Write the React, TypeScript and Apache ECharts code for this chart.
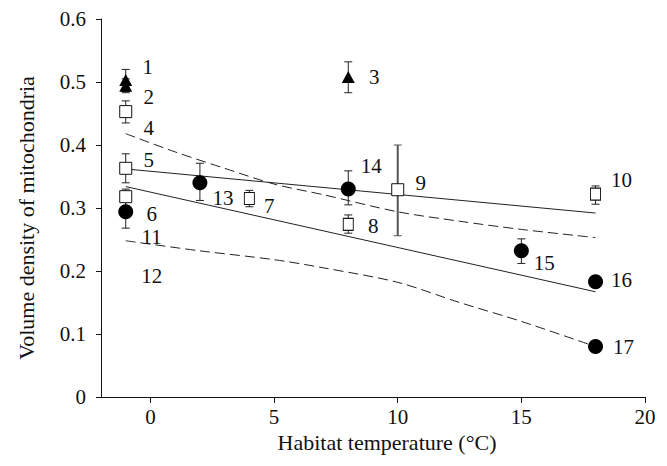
import React, { useEffect, useRef } from "react";
import * as echarts from "echarts";

// ---- data ----
const pointIds = ["1", "2", "3", "4", "5", "6", "7", "8", "9", "10", "11", "12", "13", "14", "15", "16", "17"];
const temps = [-1, -1, 8, -1, -1, -1, 4, 8, 10, 18, -1, -1, 2, 8, 15, 18, 18];
const volDensity = [0.503, 0.494, 0.508, 0.453, 0.363, 0.318, 0.315, 0.274, 0.329, 0.322, 0.294, 0.294, 0.340, 0.330, 0.232, 0.183, 0.080];
const errLow = [0.485, 0.483, 0.483, 0.435, 0.340, 0.300, 0.302, 0.260, 0.256, 0.306, 0.268, null, 0.312, 0.305, 0.212, null, null];
const errHigh = [0.520, 0.505, 0.532, 0.470, 0.386, 0.330, 0.328, 0.289, 0.400, 0.335, 0.318, null, 0.371, 0.359, 0.251, null, null];
const markerKind = ["tri", "tri", "tri", "sq", "sq", "sq", "sqn", "sqn", "sq", "sqn", "circ", "none", "circ", "circ", "circ", "circ", "circ"];

// regression lines (endpoints)
const fitXs = [-1, 18];
const upperFit = [0.362, 0.292];
const lowerFit = [0.334, 0.167];

// dashed confidence band around lower fit
const upperBandX = [-1, 1, 3, 5, 7, 10, 12.5, 15, 18];
const upperBandY = [0.418, 0.389, 0.363, 0.338, 0.321, 0.294, 0.279, 0.266, 0.253];
const lowerBandX = [-1, 2, 5, 7, 10, 12.5, 15, 18];
const lowerBandY = [0.248, 0.232, 0.218, 0.205, 0.182, 0.150, 0.120, 0.080];

const xTicks = [0, 5, 10, 15, 20];

// label placement (layout, px offsets from marker centre)
const labelOffsets: Record<string, [number, number]> = {
  "1": [22, -13], "2": [23, 11], "3": [26, 0], "4": [23, 16], "5": [23, -8],
  "6": [26, 17], "7": [20, 7], "8": [25, 2], "9": [23, -7], "10": [26, -14],
  "11": [26, 25], "12": [26, 64], "13": [23, 15], "14": [23, -23],
  "15": [23, 12], "16": [26, -2], "17": [28, 0],
};

const FONT = "Liberation Serif";
const INK = "#111";

function pointsOf(kinds: string[]) {
  const out: any[] = [];
  pointIds.forEach((id, i) => {
    if (!kinds.includes(markerKind[i])) return;
    const item: any = {
      name: id,
      value: [temps[i], volDensity[i]],
      label: { offset: labelOffsets[id] },
    };
    if (markerKind[i] === "sqn") item.symbolSize = [10, 12];
    out.push(item);
  });
  return out;
}

function errData(wide: boolean) {
  const out: any[] = [];
  pointIds.forEach((id, i) => {
    if (errLow[i] == null) return;
    if ((id === "9") !== wide) return;
    out.push([temps[i], errLow[i], errHigh[i]]);
  });
  return out;
}

const labelStyle = {
  show: true,
  formatter: "{b}",
  position: "inside",
  align: "center",
  verticalAlign: "middle",
  fontFamily: FONT,
  fontSize: 21,
  lineHeight: 14,
  color: INK,
};

function errRender(color: string, width: number) {
  return (params: any, api: any) => {
    const x = api.value(0);
    const p1 = api.coord([x, api.value(1)]);
    const p2 = api.coord([x, api.value(2)]);
    const w = 4;
    const style = { stroke: color, lineWidth: width };
    return {
      type: "group",
      children: [
        { type: "line", shape: { x1: p1[0], y1: p1[1], x2: p2[0], y2: p2[1] }, style },
        { type: "line", shape: { x1: p1[0] - w, y1: p1[1], x2: p1[0] + w, y2: p1[1] }, style: { stroke: color, lineWidth: 1 } },
        { type: "line", shape: { x1: p2[0] - w, y1: p2[1], x2: p2[0] + w, y2: p2[1] }, style: { stroke: color, lineWidth: 1 } },
      ],
    };
  };
}

export default function App() {
  const ref = useRef<HTMLDivElement>(null);
  useEffect(() => {
    if (!ref.current) return;
    const chart = echarts.init(ref.current, undefined, { renderer: "svg" });
    const option: any = {
      animation: false,
      backgroundColor: "#fff",
      textStyle: { fontFamily: FONT },
      grid: { left: 101, right: 22, top: 19, bottom: 69 },
      xAxis: {
        type: "value",
        min: -2,
        max: 20,
        name: "Habitat temperature (°C)",
        nameLocation: "middle",
        nameGap: 34,
        nameTextStyle: { fontFamily: FONT, fontSize: 22, color: INK, padding: [0, 0, 0, 28] },
        axisLine: { onZero: false, lineStyle: { color: INK, width: 1 } },
        axisTick: { show: true, length: 6, customValues: xTicks, lineStyle: { color: INK } },
        axisLabel: { customValues: xTicks, fontFamily: FONT, fontSize: 21, color: INK, margin: 9 },
        splitLine: { show: false },
      },
      yAxis: {
        type: "value",
        min: 0,
        max: 0.6,
        interval: 0.1,
        name: "Volume density of mitochondria",
        nameLocation: "middle",
        nameGap: 64,
        nameTextStyle: { fontFamily: FONT, fontSize: 22, color: INK, padding: [0, 20, 0, 0] },
        axisLine: { show: true, onZero: false, lineStyle: { color: INK, width: 1 } },
        axisTick: { show: true, length: 5, lineStyle: { color: INK } },
        axisLabel: {
          fontFamily: FONT,
          fontSize: 21,
          color: INK,
          margin: 15,
          formatter: (v: number) => (v === 0 ? "0" : v.toFixed(1)),
        },
        splitLine: { show: false },
      },
      series: [
        {
          type: "custom",
          z: 1,
          renderItem: errRender("#222", 1),
          encode: { x: 0, y: [1, 2] },
          data: errData(false),
        },
        {
          type: "custom",
          z: 1,
          renderItem: errRender("#555", 2),
          encode: { x: 0, y: [1, 2] },
          data: errData(true),
        },
        {
          type: "line",
          z: 2,
          symbol: "none",
          lineStyle: { color: "#222", width: 1 },
          data: fitXs.map((x, i) => [x, upperFit[i]]),
        },
        {
          type: "line",
          z: 2,
          symbol: "none",
          lineStyle: { color: "#222", width: 1 },
          data: fitXs.map((x, i) => [x, lowerFit[i]]),
        },
        {
          type: "line",
          z: 2,
          symbol: "none",
          smooth: 0.3,
          lineStyle: { color: "#222", width: 1, type: [10, 5] },
          data: upperBandX.map((x, i) => [x, upperBandY[i]]),
        },
        {
          type: "line",
          z: 2,
          symbol: "none",
          smooth: 0.3,
          lineStyle: { color: "#222", width: 1, type: [10, 5] },
          data: lowerBandX.map((x, i) => [x, lowerBandY[i]]),
        },
        {
          type: "scatter",
          z: 3,
          symbol: "rect",
          symbolSize: [12, 12],
          itemStyle: { color: "#fff", borderColor: "#111", borderWidth: 1, opacity: 1 },
          label: labelStyle,
          data: pointsOf(["sq", "sqn"]),
        },
        {
          type: "scatter",
          z: 4,
          symbol: "triangle",
          symbolSize: [13, 12],
          itemStyle: { color: "#000", opacity: 1 },
          label: labelStyle,
          data: pointsOf(["tri"]),
        },
        {
          type: "scatter",
          z: 4,
          symbol: "circle",
          symbolSize: 15,
          itemStyle: { color: "#000", opacity: 1 },
          label: labelStyle,
          data: pointsOf(["circ"]),
        },
        {
          type: "scatter",
          z: 4,
          symbol: "circle",
          symbolSize: 2,
          itemStyle: { color: "rgba(0,0,0,0)", opacity: 1 },
          label: labelStyle,
          data: pointsOf(["none"]),
        },
      ],
    };
    chart.setOption(option);
    return () => chart.dispose();
  }, []);
  return (
    <div
      ref={ref}
      style={{ position: "fixed", left: 0, top: 0, width: 667, height: 466, background: "#fff" }}
    />
  );
}
